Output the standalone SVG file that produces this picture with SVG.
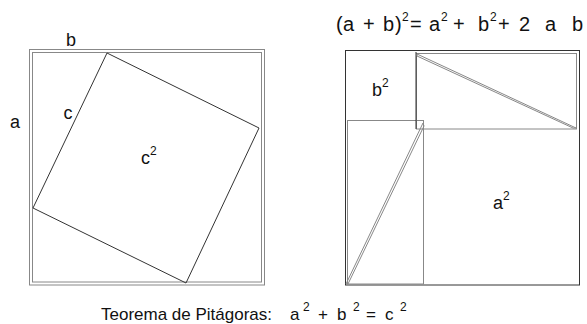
<svg xmlns="http://www.w3.org/2000/svg" width="587" height="324" viewBox="0 0 587 324">
<style>
.t{font-family:"Liberation Sans",Arial,sans-serif;fill:#111}
.lbl{font-size:18px}
.f{font-size:20px}
.sup{font-size:12px}
.ln{fill:none;stroke:#333;stroke-width:1}
.gr{fill:none;stroke:#888;stroke-width:1}
</style>
<rect width="587" height="324" fill="#fff"/>
<g id="left-square">
<rect class="gr" x="29.5" y="49.5" width="235" height="235.5"/>
<rect class="gr" x="32.5" y="52.5" width="229" height="229.5"/>
<polygon class="ln" points="107,53 259,128 186,283 33,208"/>
<text class="t lbl" x="71" y="46" text-anchor="middle">b</text>
<text class="t lbl" x="15" y="128" text-anchor="middle">a</text>
<text class="t lbl" x="68" y="119" text-anchor="middle">c</text>
<text class="t lbl" x="141" y="164">c<tspan class="sup" dy="-9">2</tspan></text>
</g>
<g id="right-square">
<rect class="ln" x="345.5" y="50.5" width="234" height="234.5"/>
<rect class="gr" x="416.5" y="53.5" width="160" height="75.5"/>
<rect class="gr" x="347.5" y="120.5" width="76" height="163.5"/>
<line class="ln" x1="416" y1="52" x2="416" y2="129"/>
<polygon class="gr" points="417,54 576,128 573,128 417,56"/>
<polygon class="gr" points="346,284 423,123 424,126 348,284"/>
<text class="t lbl" x="372" y="96">b<tspan class="sup" dy="-9">2</tspan></text>
<text class="t lbl" x="493" y="209">a<tspan class="sup" dy="-9">2</tspan></text>
</g>
<g id="formula">
<text class="t f" y="31"><tspan x="336">(</tspan><tspan x="343">a</tspan><tspan x="363">+</tspan><tspan x="383">b</tspan><tspan x="395">)</tspan><tspan class="sup" x="402" y="21">2</tspan><tspan x="410" y="31">=</tspan><tspan x="429">a</tspan><tspan class="sup" x="441" y="21">2</tspan><tspan x="453" y="31">+</tspan><tspan x="478">b</tspan><tspan class="sup" x="490" y="21">2</tspan><tspan x="498" y="31">+</tspan><tspan x="519">2</tspan><tspan x="545">a</tspan><tspan x="572">b</tspan></text>
</g>
<g id="caption">
<text class="t" style="font-size:17px" y="320"><tspan x="101">Teorema de Pitágoras:</tspan><tspan x="290">a</tspan><tspan class="sup" x="303" y="311">2</tspan><tspan x="318" y="320">+</tspan><tspan x="337">b</tspan><tspan class="sup" x="353" y="311">2</tspan><tspan x="366" y="320">=</tspan><tspan x="385">c</tspan><tspan class="sup" x="400" y="311">2</tspan></text>
</g>
</svg>
